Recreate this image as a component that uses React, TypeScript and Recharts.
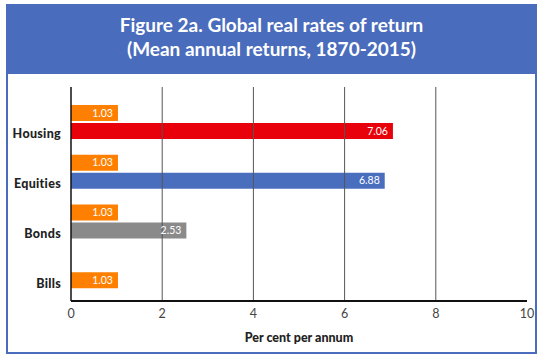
import React from "react"
import { BarChart, Bar, XAxis, YAxis, ReferenceLine, LabelList, Cell } from "recharts"

const categories = ["Housing", "Equities", "Bonds", "Bills"]
const assetReturns = [7.06, 6.88, 2.53, 1.03]
// bills return repeated beside each asset class for comparison
const billsBenchmark: (number | null)[] = [1.03, 1.03, 1.03, null]
const assetColors = ["#e8000b", "#4a6ebe", "#8a8a8a", "#ff7f00"]
const billsColor = "#ff7f00"
const xTicks = [0, 2, 4, 6, 8, 10]
const gridTicks = [2, 4, 6, 8]

const FONT = "Lato, 'Open Sans', sans-serif"
const FRAME_BLUE = "#4a6cbd"

const data = categories.map((c, i) => ({
  category: c,
  bills: billsBenchmark[i],
  asset: assetReturns[i]
}))

function CategoryTick(props: any) {
  const { x, y, payload } = props
  return (
    <text
      x={x - 2}
      y={y + 12}
      textAnchor="end"
      dominantBaseline="central"
      fontFamily={FONT}
      fontWeight={900}
      fontSize={12.5}
      letterSpacing={0.3}
      fill="#222"
    >
      {payload.value}
    </text>
  )
}

const valueLabel = {
  position: "insideRight" as const,
  offset: 5,
  fill: "#fff",
  fontSize: 10.5,
  fontFamily: FONT,
  formatter: (v: any) => (v == null ? "" : Number(v).toFixed(2))
}

export default function App() {
  return (
    <div style={{ position: "absolute", left: 0, top: 0, width: 545, height: 362, background: "#fff" }}>
      <div
        style={{
          position: "absolute",
          left: 6,
          top: 4,
          width: 531,
          height: 350,
          border: `2px solid ${FRAME_BLUE}`,
          boxSizing: "border-box"
        }}
      >
        <div
          style={{
            height: 68,
            background: FRAME_BLUE,
            color: "#fff",
            fontFamily: FONT,
            fontWeight: 700,
            fontSize: 19,
            lineHeight: "24px",
            textAlign: "center",
            paddingTop: 7,
            boxSizing: "border-box"
          }}
        >
          Figure 2a. Global real rates of return
          <br />
          (Mean annual returns, 1870-2015)
        </div>
      </div>
      <div style={{ position: "absolute", left: 0, top: 0 }}>
        <BarChart
          layout="vertical"
          width={545}
          height={362}
          data={data}
          margin={{ top: 87, right: 18, bottom: 16, left: 0 }}
          barSize={16}
          barGap={2}
        >
          {gridTicks.map((t) => (
            <ReferenceLine key={t} x={t} stroke="#555" strokeWidth={1} />
          ))}
          <XAxis
            type="number"
            domain={[0, 10]}
            ticks={xTicks}
            height={45}
            tickLine={false}
            axisLine={{ stroke: "#111", strokeWidth: 2 }}
            tick={{ fill: "#444", fontSize: 12.5, fontFamily: FONT }}
            label={{
              value: "Per cent per annum",
              position: "insideBottom",
              offset: 4,
              fill: "#222",
              fontSize: 12.5,
              fontWeight: 900,
              fontFamily: FONT
            }}
          />
          <YAxis
            type="category"
            dataKey="category"
            width={71}
            padding={{ top: 10, bottom: 5 }}
            tickLine={false}
            axisLine={{ stroke: "#111", strokeWidth: 1.5 }}
            tick={<CategoryTick />}
          />
          <Bar dataKey="bills" fill={billsColor} isAnimationActive={false}>
            <LabelList dataKey="bills" {...valueLabel} />
          </Bar>
          <Bar dataKey="asset" isAnimationActive={false}>
            {data.map((d, i) => (
              <Cell key={d.category} fill={assetColors[i]} />
            ))}
            <LabelList dataKey="asset" {...valueLabel} />
          </Bar>
        </BarChart>
      </div>
    </div>
  )
}
